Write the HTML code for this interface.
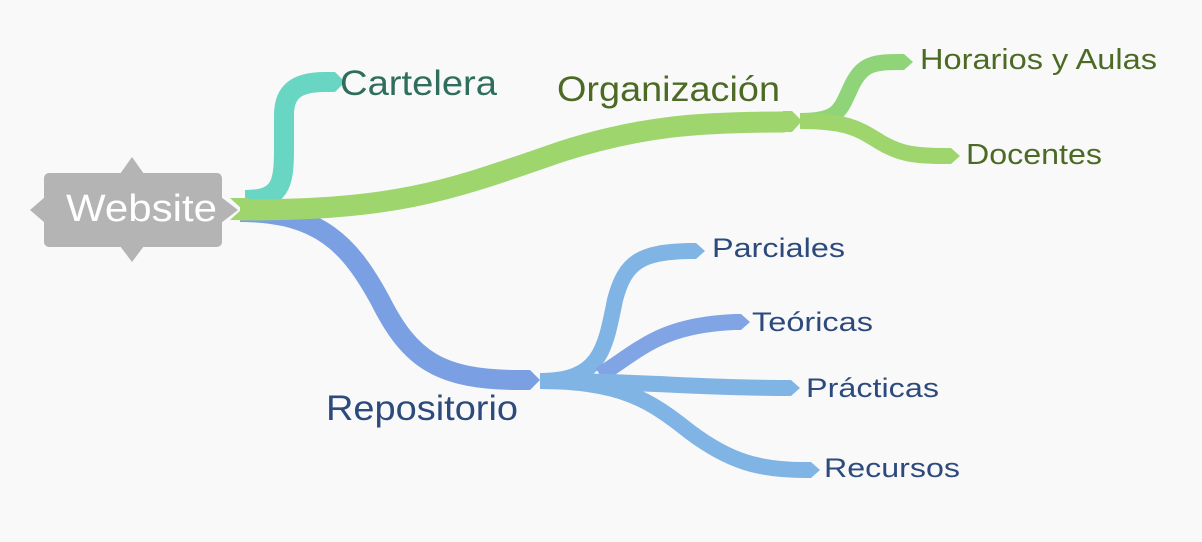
<!DOCTYPE html>
<html><head><meta charset="utf-8"><style>
html,body{margin:0;padding:0;background:#f9f9fa;}
svg{display:block;}
text{font-family:"Liberation Sans",sans-serif;}
</style></head><body>
<svg width="1202" height="542" viewBox="0 0 1202 542" xmlns="http://www.w3.org/2000/svg">
<rect width="1202" height="542" fill="#f9f9fa"/>
<g fill="none" stroke-linecap="butt">
<path d="M245,200 C280,200 284,185 284,150 L284,115 C284,92 296,82 325,82" stroke="#69d6c4" stroke-width="20"/>
<path d="M240,212 C320,212 350,245 380,300 C410,360 440,380 520,380" stroke="#7aa0e3" stroke-width="20"/>
<path d="M240,210 C400,210 450,190 560,152 C640,126 700,122 785,122" stroke="#9ed56d" stroke-width="21"/>
<path d="M800,121 C840,121 840,110 852,85 C862,65 872,62 898,62" stroke="#90d47a" stroke-width="16"/>
<path d="M800,121 C850,121 860,130 880,142 C900,154 915,156 945,156" stroke="#9ed56d" stroke-width="16"/>
<path d="M540,381 C600,381 605,350 615,300 C625,262 640,252 690,251" stroke="#80b4e4" stroke-width="16"/>
<path d="M600,375 C640,350 660,325 735,322" stroke="#80a4e4" stroke-width="16"/>
<path d="M540,381 C640,381 700,388 785,388" stroke="#80b4e4" stroke-width="16"/>
<path d="M540,381 C620,381 650,400 690,432 C730,462 760,470 805,470" stroke="#80b4e4" stroke-width="16"/>
</g>
<g>
<polygon points="323,72 335,72 345,82 335,92 323,92" fill="#69d6c4"/>
<polygon points="518,370 530,370 540,380 530,390 518,390" fill="#7aa0e3"/>
<polygon points="783,111 792,111 802,121 792,132 783,132" fill="#9ed56d"/>
<polygon points="896,54 904,54 913,62 904,70 896,70" fill="#90d47a"/>
<polygon points="943,148 951,148 960,156 951,164 943,164" fill="#9ed56d"/>
<polygon points="688,243 696,243 705,251 696,259 688,259" fill="#80b4e4"/>
<polygon points="733,314 741,314 750,322 741,330 733,330" fill="#80a4e4"/>
<polygon points="783,380 791,380 800,388 791,396 783,396" fill="#80b4e4"/>
<polygon points="803,462 811,462 820,470 811,478 803,478" fill="#80b4e4"/>
</g>
<g fill="#b4b4b4">
<rect x="44" y="173" width="178" height="74" rx="5"/>
<polygon points="120,174 132,157 144,174"/>
<polygon points="120,246 132,262 144,246"/>
<polygon points="45,197 30,210 45,223"/>
<polygon points="221,197 238,210 221,223"/>
</g>
<polygon points="230,198 248,198 260,209 248,220 230,220 242,209" fill="#9ed56d"/>
<text x="66" y="221" font-size="38" fill="#ffffff" textLength="151" lengthAdjust="spacingAndGlyphs">Website</text>
<text x="340" y="95" font-size="35" fill="#2f6e5c" textLength="157" lengthAdjust="spacingAndGlyphs">Cartelera</text>
<text x="557" y="101" font-size="35" fill="#4d6a24" textLength="223" lengthAdjust="spacingAndGlyphs">Organización</text>
<text x="920" y="69" font-size="29" fill="#4d6a24" textLength="237" lengthAdjust="spacingAndGlyphs">Horarios y Aulas</text>
<text x="966" y="164" font-size="29" fill="#4d6a24" textLength="136" lengthAdjust="spacingAndGlyphs">Docentes</text>
<text x="326" y="420" font-size="35" fill="#2c4a7c" textLength="192" lengthAdjust="spacingAndGlyphs">Repositorio</text>
<text x="712" y="257" font-size="27" fill="#2c4a7c" textLength="133" lengthAdjust="spacingAndGlyphs">Parciales</text>
<text x="752" y="331" font-size="27" fill="#2c4a7c" textLength="121" lengthAdjust="spacingAndGlyphs">Teóricas</text>
<text x="806" y="397" font-size="27" fill="#2c4a7c" textLength="133" lengthAdjust="spacingAndGlyphs">Prácticas</text>
<text x="824" y="477" font-size="27" fill="#2c4a7c" textLength="136" lengthAdjust="spacingAndGlyphs">Recursos</text>
</svg>
</body></html>
